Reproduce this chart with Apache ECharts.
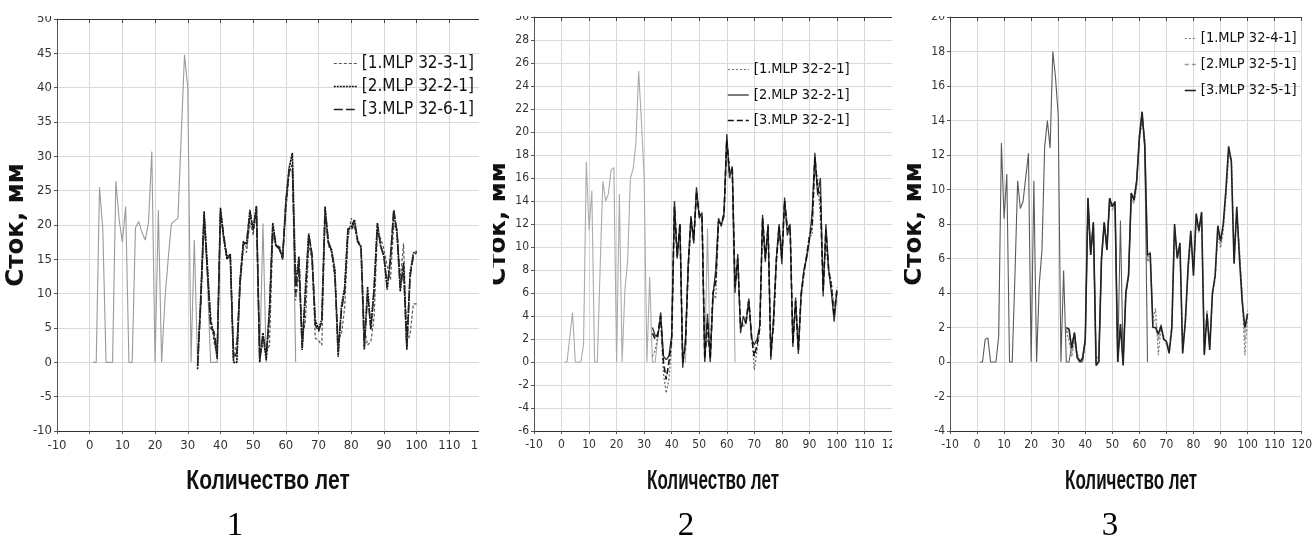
<!DOCTYPE html>
<html>
<head>
<meta charset="utf-8">
<title>Сток</title>
<script src="https://cdn.jsdelivr.net/npm/echarts@6/dist/echarts.min.js"></script>
<style>
  html, body { margin: 0; padding: 0; background: #fff; }
  #chart { width: 1315px; height: 541px; }
</style>
</head>
<body>
<div id="chart"></div>
<script>
// Годы наблюдений и годы расчёта по моделям
const yearsObs = [1,2,3,4,5,6,7,8,9,10,11,12,13,14,15,16,17,18,19,20,21,22,23,24,25,26,27,28,29,30,
  31,32,33,34,35,36,37,38,39,40,41,42,43,44,45,46,47,48,49,50,51,52,53,54,55,56,57,58,59,60,61,62,63];
const yearsModel = [33,34,35,36,37,38,39,40,41,42,43,44,45,46,47,48,49,50,51,52,53,54,55,56,57,58,59,60,
  61,62,63,64,65,66,67,68,69,70,71,72,73,74,75,76,77,78,79,80,81,82,83,84,85,86,87,88,89,90,
  91,92,93,94,95,96,97,98,99,100];

// Панель 1
const obs1 = [0,0,25.5,19.5,0,0,0,26.4,20.8,17.5,22.7,0,0,19.6,20.5,18.9,17.8,20.4,30.7,0,
  22.2,0,9,15,20.2,20.6,21,33,44.8,40,0,17.8,0,10,21.5,12,0,0,0,22.5,
  18,15,15.8,0,0,11,17.6,16.5,20,19.2,22.8,0,20.2,0,8,20.3,16.9,16.9,15,23.5,28.3,30.5,0];
const p1m1 = [0.5,8,21,13,7,3,1,21.5,18,15.5,15.5,1,3,11,16.5,16,21,18.5,22,1,2.5,1.5,2.5,18.5,17,16.5,15.5,22,
  27.5,29,9,13,3.5,6,17,15,3.5,3.2,2.5,21,17,16,12,3.5,4,8,18,21,19.5,18,16.5,5,2.5,3,6.5,19,18,16.5,
  14,12,20,19.5,12,17.3,3,4,8.5,8.5];
const p1m2 = [-1,10,22,14,6,4,0.5,22.5,18,15,15.8,0,0,12,17.6,17.2,22.2,19.2,22.8,0,4.3,0.3,8,20.3,16.9,16.9,15,23.5,
  28.3,30.5,11.6,15.4,1.8,11,18.8,15.4,6.2,4.8,6.2,22.7,17.4,16.4,13.5,0.8,8.2,11,19.3,19.8,20.8,17.4,16.9,1.8,11,4.8,11,20.3,16.9,15.4,
  10.6,15.4,21.7,18.8,10.3,14.5,1.8,13,15.9,16.2];
const p1m3 = [-0.5,9,21.5,13.5,5,4.5,1.5,22,18.5,15.2,15.5,0.5,1.5,12,17.2,17.5,21.8,19.5,22.5,0.5,4,1,7,19.8,17,16.5,15.2,23,
  28,28.3,10,15,2.2,10,18.5,15.8,5.5,4.5,6,22.3,17.6,16.2,13,1.5,7.5,10.5,19.5,19.2,20.5,17.6,16.8,2.2,10,5,10.5,20,17,15.5,
  11,15,22.3,19,10.8,14,2.2,12.5,15.5,16];

// Панель 2
const obs2 = [0,0,2.2,4.3,0,0,0,1.5,17.4,11.5,14.9,0,0,8,15.7,14,14.6,16.7,16.9,0,
  14.6,0,6.2,8.8,16,16.8,19,25.3,21,16,0,7.4,0,0,2.2,4.3,0.5,0.2,0.5,2.3,
  14,9,12,0,0,8.5,12.7,10.3,15.2,12.5,13,0,11.6,0,5.8,8,12.5,11.8,13,19.8,16,17,0];
const p2m1 = [0.5,1,2.4,3.5,-1,-2.7,-1.5,1.5,13,9.5,11.5,0.5,1.5,8,12,11,14,13,12.5,1,2,1,6,5.5,12,12,12.5,19,
  17,16.5,7,8,3.5,3,3.8,5.5,2.5,-0.7,1,2.8,12,9.5,11.5,1,3,8.5,11.5,10,14,12,11.5,2,5,1.5,5.5,7.5,9.5,11,
  11,17,16,12.5,7,10,8,7,4.5,6.5];
const p2m2 = [3,2.3,2.2,4.3,0.5,0.2,0.5,2.3,14,9,12,-0.5,2,8.5,12.7,10.3,15.2,12.5,13,0,4.2,0,5.8,8,12.5,11.8,13,19.8,
  16,17,6,9.4,2.5,4,3.3,5.5,2,1.5,2,3.2,12.8,8.7,12,0.2,4,9,12,8.5,14.3,11,12,1.3,5.6,0.7,6,8,9,10.5,
  13,18.2,14.5,16,5.7,12,8,6,3.5,6.2];
const p2m3 = [2.5,2,2.5,4,0,-1.5,0,2,13.5,9.2,12,0,1.5,8.2,12.5,10.6,14.8,12.8,12.8,0.3,3.5,0.3,6,7,12.2,12,12.8,19.3,
  16.5,16.8,6.5,9,3,3.5,3.5,5.3,2.2,0.5,1.5,3,12.5,9,11.8,0.5,3.5,8.8,11.8,9,14,11.5,11.8,1.6,5.3,1,5.8,7.8,9.2,10.8,
  12,17.8,15,14.5,6.2,11.5,8,6.5,4,6.3];

// Панель 3
const obs3 = [0,0,1.3,1.4,0,0,0,1.5,12.7,8.3,10.9,0,0,5,10.5,8.9,9.3,10.7,12.1,0,
  10.5,0,4.5,6.5,12.5,14,12.4,18,16.5,14.3,0,5.3,0,0,1,1.7,0.3,0,0,1.3,
  9.5,6.2,8.1,0,0,6,8.1,6.5,9.5,9,9.3,0,8.2,0,4,5,9.8,9.4,10.5,13,14.5,12.5,0];
const p3m1 = [1.8,1.2,0.3,1.2,0.5,0.1,0.1,1.1,9,6.5,7.8,0.2,0.3,5.8,7.8,7,9,9.2,9,0.5,1.8,0.4,3.8,5.2,9.5,9.2,10.2,12.8,
  14,13,5.8,6.1,2.5,3.1,0.4,2,1.5,1,0.6,1.8,7.6,6.2,6.5,0.8,2.2,5.2,7.2,5.4,8.2,7.8,8.4,0.6,3,0.9,3.8,4.8,7.4,6.6,
  7.6,9.6,12,11.8,6.2,8.6,6.5,4,0.4,2.6];
const p3m2 = [1.9,1.5,0.5,1.5,0.2,0,0.3,1.2,9.2,6.4,8,0,0.2,6.2,8,6.8,9.2,8.8,9.2,0.2,2,0,4.2,5.1,9.6,9.2,10.3,13.2,
  14.2,12.8,6,6.4,2.2,2.5,1.2,2.2,1.4,1.1,0.8,2.1,7.8,6.1,6.7,0.6,2.3,5.4,7.4,5.2,8.4,7.5,8.6,0.5,2.9,0.8,3.9,4.9,7.7,6.8,
  7.8,9.8,12.3,11.7,5.9,8.8,6.3,3.8,1.2,3];
const p3m3 = [2,1.9,0.8,1.7,0.3,0,0.2,1.3,9.5,6.2,8.1,-0.2,0,6,8.1,6.5,9.5,9,9.3,0,2.2,-0.2,4,5,9.8,9.4,10.5,13,
  14.5,12.5,6.2,6.3,2,2,1.6,2.1,1.3,1.2,0.5,2,8,6,6.9,0.5,2.4,5.5,7.6,5,8.6,7.6,8.7,0.4,2.8,0.7,4,5,7.9,7,
  8,10,12.5,11.6,5.7,9,6,3.5,2,2.8];

// Подписи легенд
const names1 = ['[1.MLP 32-3-1]', '[2.MLP 32-2-1]', '[3.MLP 32-6-1]'];
const names2 = ['[1.MLP 32-2-1]', '[2.MLP 32-2-1]', '[3.MLP 32-2-1]'];
const names3 = ['[1.MLP 32-4-1]', '[2.MLP 32-5-1]', '[3.MLP 32-5-1]'];
const panelNumbers = ['1', '2', '3'];

const yTitle = 'Сток, мм';
const xTitle = 'Количество лет';

const narrow = '"DejaVu Sans Condensed", "Liberation Sans Narrow", "Liberation Sans", sans-serif';
const arial = '"Liberation Sans", Arial, sans-serif';

function pairs(xs, ys) { return xs.map((x, i) => [x, ys[i]]); }

const panels = [
  { grid: { left: 57, top: 19, width: 425, height: 412 }, ymin: -10, ymax: 50, step: 5,
    obs: obs1, models: [p1m1, p1m2, p1m3], names: names1, labelSize: 13, legendSize: 17,
    obsColor: '#9a9a9a', nameGap: 28, xTitleScale: 0.78,
    styles: [
      { color: '#555', width: 1.2, type: [3, 2] },
      { color: '#111', width: 1.6, type: [2, 1] },
      { color: '#222', width: 1.6, type: [9, 3] }
    ],
    legend: { left: 333, top: 55, itemWidth: 23, itemGap: 6 } },
  { grid: { left: 534, top: 17, width: 358, height: 414 }, ymin: -6, ymax: 30, step: 2,
    obs: obs2, models: [p2m1, p2m2, p2m3], names: names2, labelSize: 12, legendSize: 14.5,
    obsColor: '#aaaaaa', nameGap: 15, xTitleScale: 0.63,
    styles: [
      { color: '#666', width: 1.2, type: [2, 2] },
      { color: '#333', width: 1.3, type: 'solid' },
      { color: '#111', width: 1.6, type: [6, 3] }
    ],
    legend: { left: 727, top: 62, itemWidth: 21, itemGap: 10.5 } },
  { grid: { left: 950, top: 17, width: 363, height: 414 }, ymin: -4, ymax: 20, step: 2,
    obs: obs3, models: [p3m1, p3m2, p3m3], names: names3, labelSize: 12, legendSize: 14.5,
    obsColor: '#5a5a5a', nameGap: 15, xTitleScale: 0.63,
    styles: [
      { color: '#777', width: 1.2, type: [2, 2] },
      { color: '#999', width: 1.3, type: [4, 3] },
      { color: '#222', width: 1.6, type: 'solid' }
    ],
    legend: { left: 1184, top: 31, itemWidth: 11, itemGap: 11 } }
];

const grid = [], xAxis = [], yAxis = [], series = [], legend = [];

panels.forEach((p, i) => {
  grid.push(p.grid);
  xAxis.push({
    type: 'value', gridIndex: i, min: -10, max: 120, interval: 10,
    axisLine: { show: true, onZero: false, lineStyle: { color: '#333', width: 1 } },
    axisTick: { show: true, length: 3, lineStyle: { color: '#555' } },
    axisLabel: { fontFamily: narrow, fontSize: p.labelSize, color: '#333', margin: 8 },
    splitLine: { show: true, lineStyle: { color: '#d9d9d9', width: 1 } }
  });
  xAxis.push({
    type: 'value', gridIndex: i, position: 'top', min: -10, max: 120, interval: 10,
    axisLine: { show: true, onZero: false, lineStyle: { color: '#333', width: 1.2 } },
    axisTick: { show: true, inside: true, length: 4, lineStyle: { color: '#444' } },
    axisLabel: { show: false }, splitLine: { show: false }
  });
  yAxis.push({
    type: 'value', gridIndex: i, min: p.ymin, max: p.ymax, interval: p.step,
    name: yTitle, nameLocation: 'middle', nameRotate: 90, nameGap: p.nameGap,
    nameTextStyle: { fontFamily: '"DejaVu Sans", sans-serif', fontWeight: 'bold', fontSize: 24.5, color: '#111' },
    axisLine: { show: true, onZero: false, lineStyle: { color: '#555', width: 1 } },
    axisTick: { show: true, length: 3, lineStyle: { color: '#555' } },
    axisLabel: { fontFamily: narrow, fontSize: p.labelSize, color: '#333', margin: 5 },
    splitLine: { show: true, lineStyle: { color: '#d9d9d9', width: 1 } }
  });

  series.push({
    type: 'line', name: 'obs' + i, xAxisIndex: i * 2, yAxisIndex: i,
    data: pairs(yearsObs, p.obs), symbol: 'none', silent: true,
    lineStyle: { color: p.obsColor, width: 1.1 }, z: 2
  });
  p.models.forEach((m, k) => {
    const s = p.styles[k];
    series.push({
      type: 'line', name: p.names[k], xAxisIndex: i * 2, yAxisIndex: i,
      data: pairs(yearsModel, m), symbol: 'none',
      itemStyle: { color: s.color },
      lineStyle: { color: s.color, width: s.width, type: s.type }, z: 3 + k
    });
  });

  legend.push({
    orient: 'vertical', left: p.legend.left, top: p.legend.top, padding: 0,
    itemWidth: p.legend.itemWidth, itemHeight: 14, itemGap: p.legend.itemGap,
    selectedMode: false, itemStyle: { opacity: 0 },
    textStyle: { fontFamily: narrow, fontSize: p.legendSize, color: '#111' },
    data: p.names.map((n, k) => ({
      name: n,
      lineStyle: { color: p.styles[k].color, width: p.styles[k].width, type: p.styles[k].type, opacity: 1 }
    }))
  });
});

const numberX = [235, 686, 1110];
const titleX = [268, 713, 1131];
const graphic = [
  // края соседних рисунков
  { type: 'rect', left: 479, top: 0, shape: { width: 14, height: 470 }, style: { fill: '#fff' }, z: 100 },
  { type: 'rect', left: 892, top: 0, shape: { width: 12, height: 470 }, style: { fill: '#fff' }, z: 100 },
  { type: 'rect', left: 0, top: 0, shape: { width: 1315, height: 16 }, style: { fill: '#fff' }, z: 100 }
].concat(panelNumbers.map((t, i) => ({
  type: 'text', x: numberX[i], y: 526, z: 100,
  style: { text: t, fontFamily: '"Liberation Serif", "DejaVu Serif", serif', fontSize: 33,
           fill: '#000', textAlign: 'center', textVerticalAlign: 'middle' }
}))).concat(panels.map((p, i) => ({
  type: 'text', x: titleX[i], y: 482, z: 100, scaleX: p.xTitleScale, scaleY: 1,
  style: { text: xTitle, fontFamily: arial, fontWeight: 'bold', fontSize: 27,
           fill: '#111', textAlign: 'center', textVerticalAlign: 'middle' }
})));

const chart = echarts.init(document.getElementById('chart'), null, { renderer: 'canvas' });
chart.setOption({
  animation: false,
  backgroundColor: '#fff',
  grid, xAxis, yAxis, series, legend, graphic
});
</script>
</body>
</html>
